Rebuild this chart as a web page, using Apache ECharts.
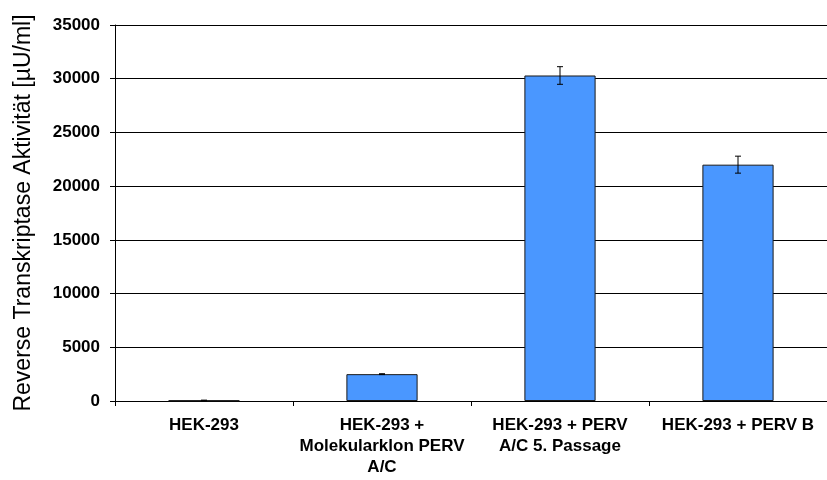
<!DOCTYPE html>
<html>
<head>
<meta charset="utf-8">
<script src="https://cdn.jsdelivr.net/npm/echarts@6/dist/echarts.min.js"></script>
<style>
  html, body { margin: 0; padding: 0; background: #fff; }
  #chart { width: 827px; height: 480px; }
</style>
</head>
<body>
<div id="chart"></div>
<script>
// Kategorien und Messwerte
var categories = ["HEK-293", "HEK-293 +\nMolekularklon PERV\nA/C", "HEK-293 + PERV\nA/C 5. Passage", "HEK-293 + PERV B"];
var values = [50, 2500, 30300, 22000];
var errors = [30, 40, 820, 790];
var yTicks = [0, 5000, 10000, 15000, 20000, 25000, 30000, 35000];

var chart = echarts.init(document.getElementById("chart"));

var errData = values.map(function (v, i) { return [i, v - errors[i], v + errors[i]]; });
var font = "Liberation Sans, Arial, sans-serif";

chart.setOption({
  animation: false,
  grid: { left: 115, right: 0, top: 25, bottom: 79 },
  xAxis: {
    type: "category",
    data: categories,
    axisLine: { lineStyle: { color: "#000", width: 1 } },
    axisTick: { show: true, length: 5, lineStyle: { color: "#000" } },
    axisLabel: {
      color: "#000",
      fontFamily: font,
      fontWeight: "bold",
      fontSize: 17,
      lineHeight: 21,
      margin: 14,
      interval: 0
    }
  },
  yAxis: {
    type: "value",
    min: yTicks[0],
    max: yTicks[yTicks.length - 1],
    interval: 5000,
    name: "Reverse Transkriptase Aktivität [µU/ml]",
    nameLocation: "middle",
    nameGap: 80,
    nameTextStyle: { color: "#000", fontFamily: font, fontSize: 23 },
    axisLine: { show: true, lineStyle: { color: "#000", width: 1 } },
    axisTick: { show: true, length: 5, lineStyle: { color: "#000" } },
    splitLine: { show: true, lineStyle: { color: "#000", width: 1 } },
    axisLabel: {
      color: "#000",
      fontFamily: font,
      fontWeight: "bold",
      fontSize: 17,
      margin: 15,
      formatter: function (v) { return String(v); }
    }
  },
  series: [
    {
      type: "bar",
      data: values,
      barWidth: "40%",
      itemStyle: { color: "#4a97ff", borderColor: "#1a1a1a", borderWidth: 1 }
    },
    {
      type: "custom",
      data: errData,
      z: 10,
      renderItem: function (params, api) {
        var x = api.value(0);
        var lo = api.coord([x, api.value(1)]);
        var hi = api.coord([x, api.value(2)]);
        var w = 3;
        return {
          type: "group",
          children: [
            { type: "line", shape: { x1: lo[0], y1: lo[1], x2: hi[0], y2: hi[1] }, style: { stroke: "#000", lineWidth: 1 } },
            { type: "line", shape: { x1: lo[0] - w, y1: lo[1], x2: lo[0] + w, y2: lo[1] }, style: { stroke: "#000", lineWidth: 1 } },
            { type: "line", shape: { x1: hi[0] - w, y1: hi[1], x2: hi[0] + w, y2: hi[1] }, style: { stroke: "#000", lineWidth: 1 } }
          ]
        };
      }
    }
  ]
});
</script>
</body>
</html>
